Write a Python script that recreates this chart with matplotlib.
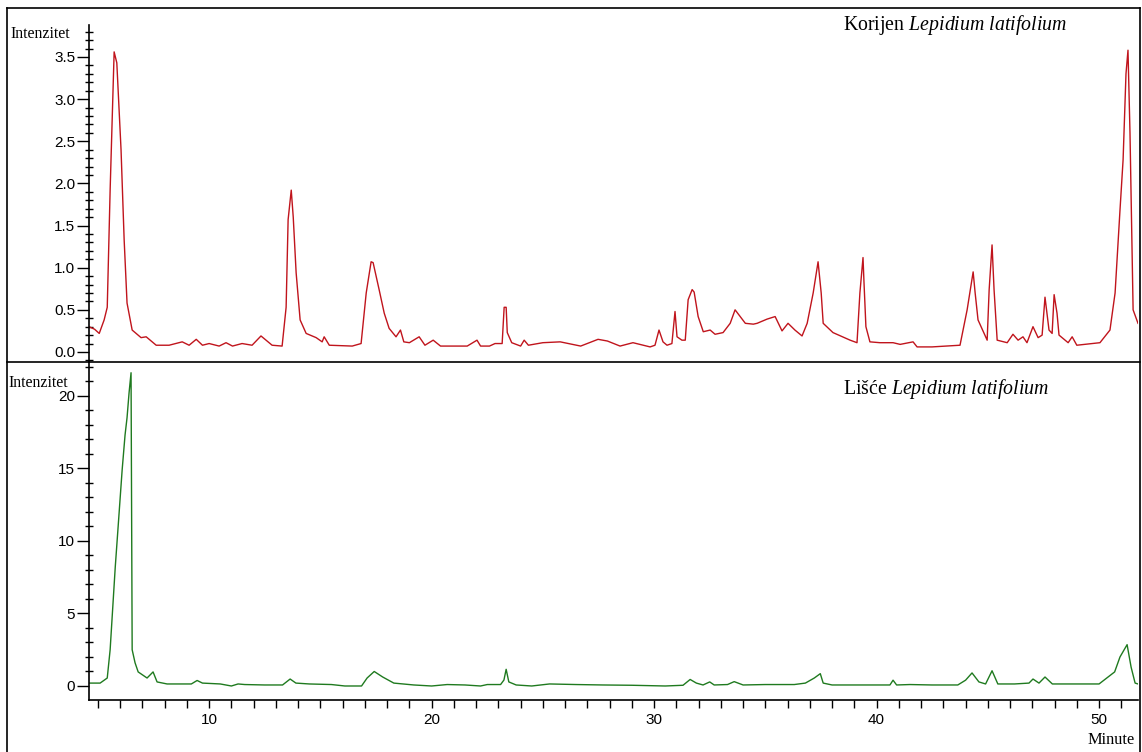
import matplotlib.pyplot as plt
from matplotlib.lines import Line2D
from matplotlib.ticker import MultipleLocator

plt.rcParams['mathtext.fontset'] = 'custom'
plt.rcParams['mathtext.it'] = 'Liberation Serif:italic'
plt.rcParams['mathtext.rm'] = 'Liberation Serif'

# Korijen (root) chromatogram: time (min), intensity
t_root = [4.6, 4.85, 5.06, 5.28, 5.42, 5.55, 5.73, 5.85, 6.04, 6.18, 6.31, 6.54, 6.94, 7.17, 7.62,
          8.2, 8.79, 9.1, 9.42, 9.7, 10.0, 10.45, 10.76, 11.05, 11.48, 11.93, 12.33, 12.56, 12.83,
          13.28, 13.46, 13.55, 13.69, 13.78, 13.91, 14.09, 14.36, 14.81, 15.08, 15.17, 15.4, 16.43,
          16.83, 17.06, 17.28, 17.37, 17.64, 17.87, 18.09, 18.4, 18.6, 18.75, 19.0, 19.44, 19.7,
          20.07, 20.4, 21.6, 22.04, 22.2, 22.6, 22.85, 23.17, 23.26, 23.35, 23.4, 23.6, 24.0, 24.16,
          24.35, 25.0, 25.78, 26.7, 27.48, 27.9, 28.47, 29.05, 29.82, 30.04, 30.22, 30.4, 30.58,
          30.8, 30.94, 31.03, 31.25, 31.4, 31.53, 31.71, 31.8, 31.98, 32.21, 32.52, 32.74, 33.1,
          33.42, 33.64, 33.87, 34.1, 34.46, 34.63, 35.08, 35.44, 35.75, 36.02, 36.33, 36.65, 36.88,
          37.15, 37.37, 37.51, 37.6, 38.04, 38.81, 39.12, 39.25, 39.39, 39.43, 39.52, 39.7, 40.15,
          40.74, 41.06, 41.64, 41.82, 42.49, 43.75, 44.07, 44.34, 44.43, 44.56, 44.97, 45.06, 45.19,
          45.28, 45.42, 45.87, 46.13, 46.36, 46.58, 46.76, 47.03, 47.26, 47.44, 47.57, 47.75, 47.89,
          47.98, 48.11, 48.2, 48.61, 48.79, 49.0, 50.04, 50.49, 50.72, 50.94, 51.08, 51.21, 51.3,
          51.39, 51.53, 51.75]
i_root = [0.30, 0.27, 0.22, 0.38, 0.53, 1.92, 3.56, 3.43, 2.40, 1.33, 0.58, 0.26, 0.17, 0.18, 0.08,
          0.08, 0.12, 0.08, 0.15, 0.08, 0.10, 0.07, 0.11, 0.07, 0.10, 0.08, 0.19, 0.14, 0.08,
          0.07, 0.53, 1.57, 1.92, 1.60, 0.94, 0.38, 0.22, 0.17, 0.12, 0.18, 0.08, 0.07,
          0.10, 0.70, 1.07, 1.06, 0.74, 0.46, 0.28, 0.18, 0.26, 0.12, 0.11, 0.18, 0.08,
          0.14, 0.07, 0.07, 0.14, 0.07, 0.07, 0.10, 0.10, 0.53, 0.53, 0.23, 0.11, 0.07, 0.14,
          0.08, 0.11, 0.12, 0.07, 0.15, 0.13, 0.07, 0.11, 0.06, 0.08, 0.26, 0.12, 0.08,
          0.10, 0.48, 0.18, 0.14, 0.14, 0.62, 0.74, 0.71, 0.42, 0.24, 0.26, 0.21, 0.23,
          0.34, 0.50, 0.42, 0.34, 0.33, 0.34, 0.39, 0.42, 0.25, 0.34, 0.26, 0.19, 0.34,
          0.70, 1.07, 0.70, 0.34, 0.23, 0.14, 0.11, 0.70, 1.12, 0.85, 0.30, 0.12, 0.11,
          0.11, 0.09, 0.12, 0.06, 0.06, 0.08, 0.50, 0.95, 0.70, 0.38, 0.14, 0.74, 1.27,
          0.74, 0.14, 0.11, 0.21, 0.14, 0.18, 0.11, 0.30, 0.17, 0.20, 0.65, 0.26, 0.22,
          0.68, 0.46, 0.20, 0.11, 0.18, 0.08, 0.11, 0.26, 0.70, 1.68, 2.28, 3.30, 3.58,
          2.60, 0.50, 0.34]

# Lišće (leaves) chromatogram
t_leaf = [4.6, 5.1, 5.42, 5.55, 5.78, 5.91, 6.09, 6.22, 6.31, 6.40, 6.49, 6.54, 6.67, 6.81, 7.21,
          7.48, 7.66, 8.11, 8.7, 9.2, 9.46, 9.7, 10.5, 11.0, 11.3, 11.6, 12.5, 13.3, 13.64, 13.9,
          14.5, 15.5, 16.1, 16.85, 17.1, 17.42, 17.8, 18.3, 19.2, 20.0, 20.7, 21.5, 22.2, 22.5,
          23.1, 23.25, 23.35, 23.47, 23.8, 24.5, 25.3, 26.5, 27.7, 29.0, 30.5, 31.3, 31.62, 31.9,
          32.2, 32.5, 32.7, 33.3, 33.6, 34.0, 35.0, 36.3, 36.8, 37.2, 37.47, 37.6, 38.0, 39.6,
          40.6, 40.74, 40.9, 41.5, 42.5, 43.65, 44.0, 44.29, 44.6, 44.9, 45.19, 45.45, 46.2,
          46.85, 47.03, 47.3, 47.57, 47.9, 48.5, 49.2, 50.0, 50.7, 50.94, 51.26, 51.44, 51.62, 51.75]
i_leaf = [0.2, 0.2, 0.55, 2.5, 8.2, 11.0, 14.9, 17.3, 18.5, 20.2, 21.6, 2.5, 1.6, 0.97, 0.55,
          0.97, 0.28, 0.14, 0.14, 0.14, 0.38, 0.2, 0.14, 0.0, 0.14, 0.1, 0.07, 0.07, 0.48, 0.2,
          0.14, 0.1, 0.0, 0.0, 0.55, 1.0, 0.62, 0.2, 0.07, 0.0, 0.1, 0.07, 0.0, 0.1,
          0.1, 0.41, 1.15, 0.28, 0.07, 0.0, 0.14, 0.1, 0.07, 0.05, 0.0, 0.05, 0.45, 0.2,
          0.07, 0.28, 0.07, 0.1, 0.3, 0.07, 0.1, 0.1, 0.2, 0.55, 0.85, 0.2, 0.07, 0.07,
          0.07, 0.4, 0.07, 0.1, 0.07, 0.07, 0.4, 0.9, 0.28, 0.14, 1.05, 0.14, 0.14,
          0.2, 0.48, 0.2, 0.62, 0.14, 0.14, 0.14, 0.14, 0.97, 2.0, 2.85, 1.3, 0.2, 0.14]

W, H = 1142, 752
fig = plt.figure(figsize=(W / 100, H / 100), dpi=100)
fig.patch.set_facecolor('white')

def px_axes(x0, y0, x1, y1):
    # axes from pixel box (top-left origin)
    return fig.add_axes([x0 / W, 1 - y1 / H, (x1 - x0) / W, (y1 - y0) / H])

ax1 = px_axes(89, 25, 1138, 362)
ax2 = px_axes(89, 362, 1138, 700)

ax1.plot(t_root, i_root, color='#c0141c', lw=1.0)
ax2.plot(t_leaf, i_leaf, color='#1f7a1f', lw=1.0)

for ax in (ax1, ax2):
    ax.set_xlim(4.6, 51.75)
    ax.set_facecolor('none')
    for s in ('top', 'right'):
        ax.spines[s].set_visible(False)
    ax.spines['left'].set_linewidth(1.2)
    ax.tick_params(axis='y', which='major', direction='out', length=9, width=1.0,
                   labelsize=11, pad=1)
    ax.tick_params(axis='y', which='minor', direction='inout', length=6, width=1.0)

ax1.set_ylim(-0.119, 3.879)
ax1.yaxis.set_major_locator(MultipleLocator(0.5))
ax1.yaxis.set_minor_locator(MultipleLocator(0.1))
ax1.yaxis.set_major_formatter(lambda v, p: f'{v:.1f}')
ax1.spines['bottom'].set_visible(False)
ax1.tick_params(axis='x', which='both', bottom=False, labelbottom=False)

ax2.set_ylim(-0.966, 22.34)
ax2.yaxis.set_major_locator(MultipleLocator(5))
ax2.yaxis.set_minor_locator(MultipleLocator(1))
ax2.spines['bottom'].set_linewidth(1.2)
ax2.xaxis.set_major_locator(MultipleLocator(10))
ax2.xaxis.set_minor_locator(MultipleLocator(1))
ax2.tick_params(axis='x', which='both', direction='out', length=6, width=1.0,
                labelsize=11, pad=3)

for ax in (ax1, ax2):
    for lab in ax.get_yticklabels() + ax.get_xticklabels():
        lab.set_fontfamily('Liberation Sans')

serif = 'Liberation Serif'
fig.text(10 / W, 1 - 38 / H, 'Intenzitet', family=serif, fontsize=11.3, va='baseline')
fig.text(8 / W, 1 - 387 / H, 'Intenzitet', family=serif, fontsize=11.3, va='baseline')
fig.text(843 / W, 1 - 30 / H, 'Korijen $\\mathit{Lepidium\\ latifolium}$', family=serif,
         fontsize=14.3, va='baseline')
fig.text(843 / W, 1 - 394 / H, 'Lišće $\\mathit{Lepidium\\ latifolium}$', family=serif,
         fontsize=14.3, va='baseline')
fig.text(1088 / W, 1 - 744 / H, 'Minute', family=serif, fontsize=11.8, va='baseline')

# outer frame and panel divider
def fig_line(xs, ys, lw=1.2):
    fig.add_artist(Line2D([x / W for x in xs], [1 - y / H for y in ys],
                          transform=fig.transFigure, color='black', lw=lw))

fig_line([7, 1140], [8, 8])
fig_line([7, 7], [8, 752])
fig_line([1140, 1140], [8, 752])
fig_line([7, 1140], [362, 362])

fig.savefig('out.png', dpi=100)
